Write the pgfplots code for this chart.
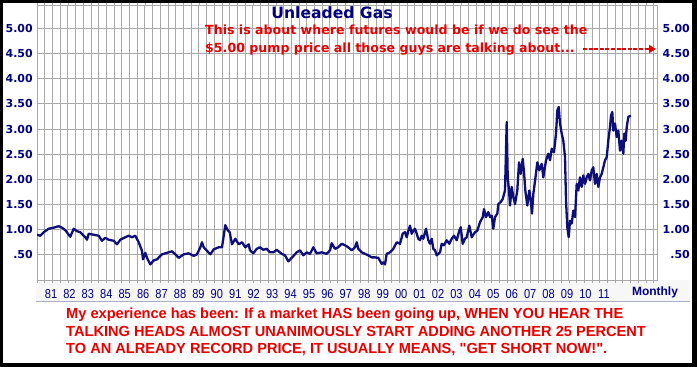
\documentclass[border=0pt]{standalone}
\usepackage{fontspec}
\usepackage{pgfplots}
\pgfplotsset{compat=1.18}
\usepackage{pgfplotstable}
\usetikzlibrary{arrows.meta}
\newfontfamily\dejavu{DejaVu Sans}
\newfontfamily\arialf{Liberation Sans}
\newfontfamily\arialn{Liberation Sans}[FakeStretch=0.85]
\definecolor{navy}{RGB}{0,0,128}
\definecolor{linenavy}{RGB}{14,14,122}
\definecolor{txtred}{RGB}{232,0,0}
\definecolor{gridgray}{RGB}{168,168,168}

\pgfplotstableread{
px v
37.0 0.90
40.3 0.88
43.7 0.95
48.7 1.02
53.7 1.04
58.7 1.07
62.0 1.04
65.3 0.99
68.7 0.90
70.3 0.86
73.7 1.02
77.0 0.97
80.3 0.95
85.3 0.85
87.0 0.80
88.7 0.92
93.7 0.90
98.7 0.88
102.0 0.78
105.3 0.84
108.7 0.80
113.7 0.78
117.0 0.71
120.3 0.80
125.3 0.85
128.7 0.88
132.0 0.85
135.3 0.88
138.7 0.75
142.0 0.58
143.0 0.41
145.3 0.54
147.0 0.44
150.3 0.31
153.7 0.39
157.0 0.41
162.0 0.51
167.0 0.54
172.0 0.57
175.3 0.51
178.7 0.44
183.7 0.51
188.7 0.53
193.7 0.48
197.0 0.51
200.3 0.65
202.0 0.75
203.7 0.65
207.0 0.58
210.3 0.51
213.7 0.61
218.7 0.65
222.0 0.65
225.3 1.09
227.7 0.99
229.7 0.95
232.0 0.71
235.3 0.82
238.7 0.71
242.0 0.75
245.3 0.65
248.7 0.71
250.0 0.59
253.3 0.53
256.7 0.62
260.0 0.65
263.3 0.60
266.7 0.62
270.0 0.55
273.3 0.55
276.7 0.60
281.7 0.52
285.0 0.49
288.3 0.37
291.7 0.44
296.7 0.55
300.0 0.59
303.3 0.49
306.7 0.55
310.0 0.52
313.3 0.65
316.7 0.53
321.7 0.55
326.7 0.52
330.0 0.59
331.7 0.73
335.0 0.62
338.3 0.65
341.7 0.72
345.0 0.69
348.3 0.65
351.7 0.59
355.0 0.65
356.7 0.75
358.3 0.62
361.7 0.55
365.0 0.52
368.3 0.49
371.7 0.45
375.0 0.45
378.3 0.44
381.7 0.32
383.3 0.35
385.0 0.31
386.7 0.52
390.0 0.55
393.3 0.62
396.7 0.75
400.0 0.72
402.7 0.92
405.0 0.95
406.7 0.85
408.3 0.98
410.0 1.08
411.7 0.92
413.3 0.98
415.0 1.02
416.7 0.92
418.3 0.82
420.0 0.79
421.7 0.88
423.3 0.82
426.0 1.02
428.3 0.79
430.0 0.72
431.7 0.82
433.3 0.62
435.0 0.59
436.7 0.49
440.0 0.55
441.7 0.72
444.0 0.69
446.7 0.79
449.3 0.72
451.7 0.82
454.0 0.88
456.7 0.79
459.3 0.98
460.7 1.05
462.7 0.72
465.0 0.82
466.7 0.85
469.3 1.08
471.7 0.85
475.0 0.95
477.3 0.98
480.0 1.15
482.7 1.25
484.0 1.41
486.0 1.25
488.3 1.35
490.0 1.25
491.7 1.28
493.3 1.02
495.0 1.25
497.3 1.32
498.3 1.51
500.7 1.55
502.7 1.61
505.0 1.78
506.7 3.14
507.7 2.04
509.0 1.78
510.0 1.48
511.7 1.85
513.3 1.65
515.0 1.51
517.3 1.78
519.0 2.34
520.7 2.11
522.7 2.41
524.0 2.14
525.3 1.78
527.3 1.48
529.3 1.78
530.7 1.58
532.0 1.32
533.3 1.71
535.3 2.01
537.3 2.34
539.3 2.18
541.7 2.31
543.3 2.04
546.0 2.38
548.3 2.51
550.0 2.38
551.7 2.61
554.0 2.54
556.0 2.91
557.3 3.37
558.7 3.44
560.0 3.11
561.7 2.91
563.3 2.77
565.0 2.44
566.0 1.58
567.3 1.05
568.7 0.85
570.0 1.18
571.7 1.12
573.3 1.38
575.0 1.25
576.7 1.91
578.3 1.78
580.0 2.04
581.7 1.85
583.3 2.08
585.0 1.91
586.7 2.04
588.3 2.11
590.0 1.98
591.7 2.18
593.3 2.24
595.0 1.91
596.7 2.11
598.3 1.85
600.0 2.04
601.7 2.11
603.3 2.24
605.0 2.38
606.7 2.44
608.3 2.77
610.0 3.04
611.0 3.27
612.3 3.34
613.3 2.97
615.0 3.11
616.7 2.84
618.3 2.97
620.0 2.57
621.7 2.77
623.3 2.51
624.3 2.91
625.7 2.77
626.7 3.04
628.3 3.24
630.7 3.27
}\gasdata

\begin{document}
\begin{tikzpicture}
\begin{scope}[x=1pt,y=1pt]
\useasboundingbox (0,0) rectangle (697,367);
\fill[white] (0,0) rectangle (697,367);
% label band
\fill[gray!6] (36,66) rectangle (690,87);
\draw[color={rgb,255:red,170;green,175;blue,200}, line width=0.8pt] (36,66) -- (690,66);
\end{scope}

\begin{axis}[
  at={(37pt,87pt)}, anchor=south west,
  scale only axis, width=620pt, height=275pt,
  xmin=1980.74, xmax=2014.38, ymin=0, ymax=5.467,
  axis line style={draw=gridgray, line width=0.9pt},
  grid=major, grid style={draw=gridgray, line width=0.9pt},
  xtick={1980.74,1981.1583,...,2014.4},
  xticklabels={},
  minor x tick num=4,
  tick align=outside,
  major tick length=3pt, minor tick length=3pt,
  xtick style={draw=gridgray, line width=0.6pt},
  ytick={0.5,1,...,5},
  ytick style={draw=none},
  yticklabels={.50,1.00,1.50,2.00,2.50,3.00,3.50,4.00,4.50,5.00},
  yticklabel style={font=\dejavu\bfseries\fontsize{11}{13}\selectfont, text=navy, inner sep=0pt, anchor=east, xshift=-1pt},
  extra x ticks={1981.5,1982.5,...,2011.5},
  extra x tick labels={81,82,83,84,85,86,87,88,89,90,91,92,93,94,95,96,97,98,99,00,01,02,03,04,05,06,07,08,09,10,11},
  extra x tick style={grid=none, xtick style={draw=none},
     xticklabel style={font=\arialn\fontsize{13}{15}\selectfont, text=navy, inner sep=0pt, anchor=base, yshift=-15.5pt}},
  clip=true,
]
\addplot[linenavy, line width=2.3pt, line join=round] table[x expr=1980.74+(\thisrow{px}-37)/18.43, y=v] {\gasdata};
\end{axis}

\begin{axis}[
  at={(37pt,87pt)}, anchor=south west,
  scale only axis, width=620pt, height=275pt,
  xmin=1980.74, xmax=2014.38, ymin=0, ymax=5.467,
  hide x axis, axis y line*=right,
  axis line style={draw=none},
  ytick={0.5,1,...,5},
  ytick style={draw=none},
  yticklabels={.50,1.00,1.50,2.00,2.50,3.00,3.50,4.00,4.50,5.00},
  yticklabel style={font=\dejavu\bfseries\fontsize{11}{13}\selectfont, text=navy, inner sep=0pt, anchor=east, xshift=33pt},
]
\addplot[draw=none] coordinates {(1990,1)};
\end{axis}

\begin{scope}[x=1pt,y=1pt]
% title and annotations
\node[anchor=base, inner sep=0pt, text=navy, font=\dejavu\bfseries\fontsize{15.6}{18}\selectfont] at (332,348.7) {Unleaded Gas};
\node[anchor=base west, inner sep=0pt, text=txtred, font=\dejavu\bfseries\fontsize{12.6}{15}\selectfont] at (205,332) {This is about where futures would be if we do see the};
\node[anchor=base west, inner sep=0pt, text=txtred, font=\dejavu\bfseries\fontsize{12.6}{15}\selectfont] at (205,314.5) {\$5.00 pump price all those guys are talking about...};
\draw[txtred, line width=2pt, dash pattern=on 4pt off 1.6pt, -{Triangle[length=7pt,width=8pt]}] (583,318) -- (656,318);

\node[anchor=base, inner sep=0pt, text=navy, font=\arialf\bfseries\fontsize{12}{14}\selectfont] at (655,71) {Monthly};

\begin{scope}[every node/.style={anchor=base west, inner sep=0pt, text=txtred, font=\arialf\bfseries\fontsize{14.6}{17}\selectfont}]
\node at (66,48) {My experience has been: If a market HAS been going up, WHEN YOU HEAR THE};
\node at (66,30) {TALKING HEADS ALMOST UNANIMOUSLY START ADDING ANOTHER 25 PERCENT};
\node at (66,13) {TO AN ALREADY RECORD PRICE, IT USUALLY MEANS, "GET SHORT NOW!".};
\end{scope}

% black frame
\fill[black] (0,0) rectangle (3,367);
\fill[black] (0,364) rectangle (697,367);
\fill[black] (692,0) rectangle (697,367);
\fill[black] (0,0) rectangle (697,4);
\end{scope}
\end{tikzpicture}
\end{document}
